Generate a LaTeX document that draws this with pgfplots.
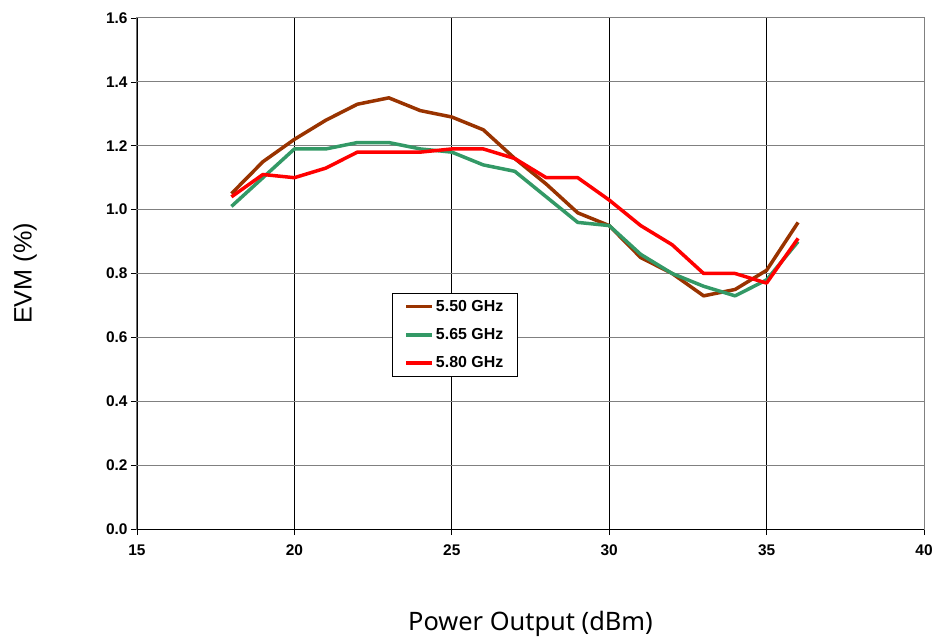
\documentclass[border=0pt]{standalone}
\usepackage{pgfplots}
\pgfplotsset{compat=1.18}
\usepackage{fontspec}
\setmainfont{Liberation Sans}
\newfontfamily\labfont{Noto Sans}
\usetikzlibrary{calc}
\definecolor{cbrown}{RGB}{153,51,0}
\definecolor{cgreen}{RGB}{51,153,102}
\definecolor{cred}{RGB}{255,0,0}
\begin{document}
\begin{tikzpicture}
\begin{axis}[
  scale only axis,
  width=787bp, height=511bp,
  xmin=15, xmax=40, ymin=0, ymax=1.6,
  xtick={15,20,...,40},
  ytick={0,0.2,...,1.6},
  xtick pos=bottom, ytick pos=left,
  tick align=outside,
  major tick length=6bp,
  tick style={black, line width=0.7bp},
  axis line style={gray, line width=1bp},
  grid=major,
  x grid style={black, line width=0.7bp},
  y grid style={gray, line width=1bp},
  /pgf/number format/assume math mode=true,
  ticklabel style={font=\bfseries\fontsize{15.5}{15.5}\selectfont},
  xticklabel style={yshift=-6bp},
  yticklabel style={/pgf/number format/fixed, /pgf/number format/fixed zerofill, /pgf/number format/precision=1},
  xlabel={Power Output (dBm)},
  ylabel={EVM (\%)},
  xlabel style={font=\labfont\fontsize{25.5}{25.5}\selectfont, at={(axis description cs:0.5,-0.185)}, anchor=center},
  ylabel style={font=\fontsize{25.3}{25.3}\selectfont, at={(axis description cs:-0.1423,0.5)}, anchor=center},
  legend style={at={(rel axis cs:0.324,0.462)}, anchor=north west, draw=black, line width=1bp,
    font=\bfseries\fontsize{16}{16}\selectfont, row sep=11.5bp, inner xsep=12bp, inner ysep=5bp},
  legend cell align=left,
  legend image code/.code={\draw[#1, line width=3.5bp] (0bp,0bp) -- (26bp,0bp);},
  every axis plot/.append style={line width=3.5bp, line join=round},
]
\addplot[cbrown] coordinates {(18,1.05)(19,1.15)(20,1.22)(21,1.28)(22,1.33)(23,1.35)(24,1.31)(25,1.29)(26,1.25)(27,1.16)(28,1.08)(29,0.99)(30,0.95)(31,0.85)(32,0.80)(33,0.73)(34,0.75)(35,0.81)(36,0.96)};
\addlegendentry{5.50 GHz}
\addplot[cgreen] coordinates {(18,1.01)(19,1.10)(20,1.19)(21,1.19)(22,1.21)(23,1.21)(24,1.19)(25,1.18)(26,1.14)(27,1.12)(28,1.04)(29,0.96)(30,0.95)(31,0.86)(32,0.80)(33,0.76)(34,0.73)(35,0.78)(36,0.90)};
\addlegendentry{5.65 GHz}
\addplot[cred] coordinates {(18,1.04)(19,1.11)(20,1.10)(21,1.13)(22,1.18)(23,1.18)(24,1.18)(25,1.19)(26,1.19)(27,1.16)(28,1.10)(29,1.10)(30,1.03)(31,0.95)(32,0.89)(33,0.80)(34,0.80)(35,0.77)(36,0.91)};
\addlegendentry{5.80 GHz}
\draw[black, line width=1bp] (rel axis cs:0,1) -- (rel axis cs:0,0) -- (rel axis cs:1,0);
\coordinate (bl) at (rel axis cs:0,0);
\coordinate (tr) at (rel axis cs:1,1);
\end{axis}
\pgfresetboundingbox
\path ($(bl)+(-137bp,-109bp)$) rectangle ($(tr)+(9bp,18bp)$);
\end{tikzpicture}
\end{document}
